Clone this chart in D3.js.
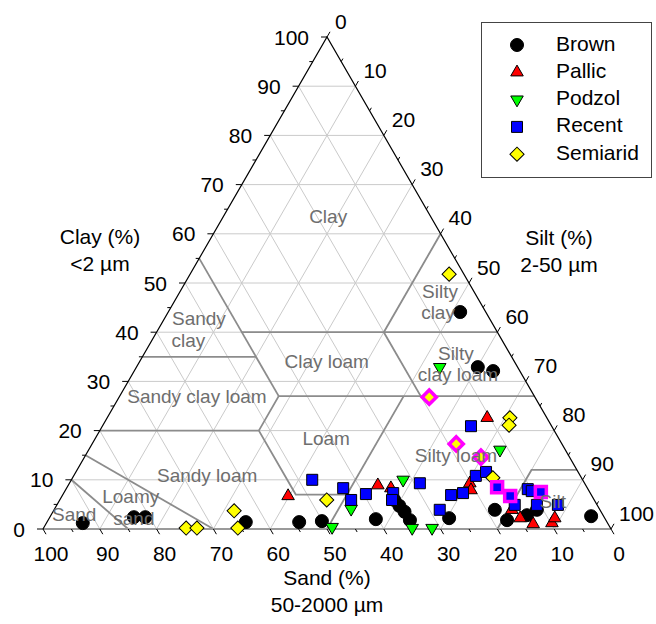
<!DOCTYPE html>
<html>
<head>
<meta charset="utf-8">
<script src="https://cdn.jsdelivr.net/npm/d3@7"></script>
<style>
body{margin:0;background:#fff;}
svg{display:block;font-family:"Liberation Sans",Arial,Helvetica,sans-serif;}
</style>
</head>
<body>
<svg id="chart" width="656" height="624"></svg>
<script>
// soil samples as [sand %, clay %] - silt is whatever is left
var brown = [[92.4,1.2],[82.8,2.4],[80.8,2.4],[63.6,1.4],[54.2,1.4],[50.1,1.6],[40.4,2.0],
    [35.2,5.9],[34.9,4.7],[34.6,3.5],[34.5,1.8],[27.4,2.2],[4.5,44.1],[7.0,32.9],[4.7,32.1],
    [18.5,3.9],[17.4,1.8],[13.4,2.8],[11.1,3.9],[2.2,2.6]];
var pallic = [[53.5,6.7],[36.6,8.9],[34.6,8.3],[10.5,22.6],[20.2,9.3],[20.7,7.9],[15.5,3.9],
    [14.9,2.2],[13.2,1.0],[9.8,1.2],[8.8,2.2]];
var podzol = [[48.9,0.4],[43.7,4.1],[31.6,10.0],[34.9,0.2],[31.4,0.2],[13.7,32.9],[11.5,16.1]];
var recent = [[47.6,10.0],[43.0,8.3],[42.8,5.9],[39.6,7.1],[34.7,7.3],[35.6,5.9],[29.0,9.3],
    [28.2,3.9],[24.7,6.9],[22.4,7.3],[18.4,10.8],[16.2,11.6],[14.2,20.9],[14.5,4.9],[10.6,8.1],
    [10.1,7.7],[10.6,4.9],[6.9,4.9]];
var recentMarked = [[15.8,8.5],[14.4,6.7],[8.6,7.5]];
var semiarid = [[74.7,0.2],[72.8,0.2],[64.5,3.7],[65.6,0.2],[47.1,5.9],[2.6,51.8],[6.5,22.6],
    [7.4,21.1],[15.6,10.4]];
var semiaridMarked = [[18.6,26.8],[18.6,17.3],[15.6,14.6]];

var seriesNames = ["Brown","Pallic","Podzol","Recent","Semiarid"];
var majorTicks = d3.range(0,101,10);
var minorTicks = d3.range(5,100,10);

// texture class borders, each a run of [sand, clay] corners
var borders = [
    [[90,10],[85,0]],
    [[85,15],[70,0]],
    [[80,20],[52,20],[52,7],[43,7]],
    [[50,0],[23,27]],
    [[52,20],[45,27],[0,27]],
    [[65,35],[45,35]],
    [[45,55],[45,27]],
    [[45,40],[0,40]],
    [[20,40],[20,27]],
    [[0,60],[20,40]],
    [[20,0],[8,12],[0,12]]
];
// class names: text, [sand, clay] of its centre
var classNames = [
    ["Clay",18.2,63.2],["Silty",6.1,48.0],["clay",8.6,43.7],["Silty",9.6,35.4],["clay loam",11.4,31.1],
    ["Clay loam",33.2,33.7],["Loam",41.1,18.1],["Silty loam",20.0,14.6],["Silt",7.6,5.3],
    ["Sandy",51.3,42.5],["clay",55.4,38.0],["Sandy clay loam",59.6,26.6],["Sandy loam",65.8,10.6],
    ["Loamy",81.4,6.3],["sand",83.1,1.8],["Sand",93.2,2.6]
];

var svg = d3.select("#chart");
var xs = d3.scaleLinear().domain([0,100]).range([43,611]);
var ys = d3.scaleLinear().domain([0,100]).range([529,37]);
function pos(sand, clay){
    var silt = 100-sand-clay;
    return [xs(silt+clay/2), ys(clay)];
}
var line = d3.line().x(function(d){return pos(d[0],d[1])[0];}).y(function(d){return pos(d[0],d[1])[1];});

// grid
var grid = svg.append("g").attr("stroke","#cacaca").attr("stroke-width",1).attr("fill","none");
d3.range(10,100,10).forEach(function(v){
    grid.append("path").attr("d",line([[100-v,v],[0,v]]));        // clay
    grid.append("path").attr("d",line([[v,0],[v,100-v]]));        // sand
    grid.append("path").attr("d",line([[100-v,0],[0,100-v]]));    // silt
});

var bnd = svg.append("g").attr("stroke","#8c8c8c").attr("stroke-width",1.8).attr("fill","none");
borders.forEach(function(b){ bnd.append("path").attr("d",line(b)); });
bnd.append("path").attr("d",line([[100,0],[0,0]])).attr("stroke","#9a9a9a").attr("stroke-width",2);

// outline left + right
svg.append("path").attr("d",line([[100,0],[0,100],[0,0]])).attr("fill","none").attr("stroke","#000").attr("stroke-width",1.2);

// ticks
var tk = svg.append("g").attr("stroke","#000").attr("stroke-width",1);
majorTicks.concat(minorTicks).forEach(function(v){
    var len = v%10===0 ? 6 : 3.5;
    var p = pos(100-v, v);   // clay axis, left edge
    tk.append("line").attr("x1",p[0]).attr("y1",p[1]).attr("x2",p[0]-len).attr("y2",p[1]);
    p = pos(0, 100-v);       // silt axis, right edge
    tk.append("line").attr("x1",p[0]).attr("y1",p[1]).attr("x2",p[0]+len*0.5).attr("y2",p[1]-len*0.866);
    p = pos(v, 0);           // sand axis, bottom
    tk.append("line").attr("x1",p[0]).attr("y1",p[1]).attr("x2",p[0]+len*0.5).attr("y2",p[1]+len*0.866);
});

var lab = svg.append("g").attr("font-size",21).attr("fill","#000");
majorTicks.forEach(function(v){
    var p = pos(100-v, v);
    lab.append("text").attr("x",p[0]-18).attr("y",p[1]+2).attr("text-anchor","end").attr("dominant-baseline","middle").text(v);
    p = pos(0, 100-v);
    lab.append("text").attr("x",p[0]+8).attr("y",p[1]-14).attr("dominant-baseline","middle").text(v);
    p = pos(v, 0);
    lab.append("text").attr("x",p[0]+8).attr("y",p[1]+26).attr("text-anchor","middle").attr("dominant-baseline","middle").text(v);
});

// axis titles
function title(x, y, lines){
    lines.forEach(function(t,i){
        lab.append("text").attr("x",x).attr("y",y+i*27).attr("text-anchor","middle").attr("dominant-baseline","middle").text(t);
    });
}
title(100,238,["Clay (%)","<2 µm"]);
title(559,239,["Silt (%)","2-50 µm"]);
title(327,579,["Sand (%)","50-2000 µm"]);

// markers
var sym = {
    Brown:{type:d3.symbolCircle,size:133,fill:"#000",rot:0},
    Pallic:{type:d3.symbolTriangle,size:68,fill:"#ff0000",rot:0},
    Podzol:{type:d3.symbolTriangle,size:68,fill:"#00ff00",rot:180},
    Recent:{type:d3.symbolSquare,size:121,fill:"#0000ff",rot:0},
    Semiarid:{type:d3.symbolSquare,size:100,fill:"#ffff00",rot:45}
};
function drawSeries(data, name, marked){
    var s = sym[name];
    var g = svg.append("g");
    g.selectAll("path").data(data).enter().append("path")
        .attr("d",d3.symbol().type(s.type).size(s.size))
        .attr("transform",function(d){var p=pos(d[0],d[1]);return "translate("+p[0]+","+p[1]+") rotate("+s.rot+")";})
        .attr("fill",s.fill)
        .attr("stroke",marked ? "#ff00ff" : "#000")
        .attr("stroke-width",marked ? 3.5 : 1);
}
drawSeries(brown,"Brown");
drawSeries(pallic,"Pallic");
drawSeries(podzol,"Podzol");
drawSeries(recent,"Recent");
drawSeries(semiarid,"Semiarid");
drawSeries(recentMarked,"Recent",true);
drawSeries(semiaridMarked,"Semiarid",true);

// class names on top
var cn = svg.append("g").attr("font-size",19).attr("fill","#6e6e6e");
classNames.forEach(function(c){
    var p = pos(c[1],c[2]);
    cn.append("text").attr("x",p[0]).attr("y",p[1]).attr("text-anchor","middle").attr("dominant-baseline","middle").text(c[0]);
});

// legend
var leg = svg.append("g");
leg.append("rect").attr("x",481.5).attr("y",22.5).attr("width",170).attr("height",155)
    .attr("fill","#fff").attr("stroke","#444").attr("stroke-width",1);
seriesNames.forEach(function(n,i){
    var s = sym[n], y = 45+i*27.3;
    leg.append("path").attr("d",d3.symbol().type(s.type).size(s.size))
        .attr("transform","translate(517,"+y+") rotate("+s.rot+")")
        .attr("fill",s.fill).attr("stroke","#000").attr("stroke-width",1);
    leg.append("text").attr("x",556).attr("y",y).attr("font-size",21).attr("dominant-baseline","middle").text(n);
});
</script>
</body>
</html>
